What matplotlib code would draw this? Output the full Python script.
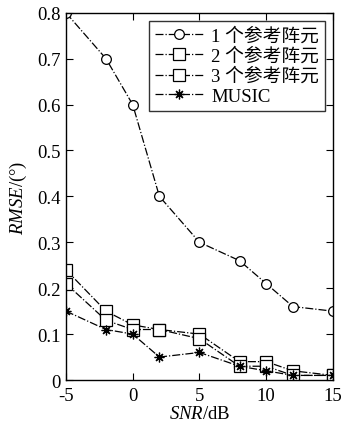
import numpy as np
import matplotlib.pyplot as plt

plt.rcParams['font.family'] = ['Liberation Serif', 'Noto Sans CJK SC']
plt.rcParams['mathtext.fontset'] = 'custom'
plt.rcParams['mathtext.rm'] = 'Liberation Serif'
plt.rcParams['mathtext.it'] = 'Liberation Serif:italic'
plt.rcParams['axes.unicode_minus'] = False

# data
snr = [-5, -2, 0, 2, 5, 8, 10, 12, 15]
rmse_1ref = [0.80, 0.70, 0.60, 0.40, 0.30, 0.26, 0.21, 0.16, 0.15]
rmse_2ref = [0.24, 0.15, 0.12, 0.11, 0.10, 0.04, 0.04, 0.02, 0.01]
rmse_3ref = [0.21, 0.13, 0.11, 0.11, 0.09, 0.03, 0.03, 0.01, 0.01]
rmse_music = [0.15, 0.11, 0.10, 0.05, 0.06, 0.03, 0.02, 0.01, 0.01]
labels = ["1 个参考阵元", "2 个参考阵元", "3 个参考阵元", "MUSIC"]

fig = plt.figure(figsize=(3.49, 4.31), dpi=100)
ax = fig.add_axes([0.189, 0.116, 0.765, 0.852])

style = dict(color="black", linestyle="-.", linewidth=0.9, markerfacecolor="white",
             markeredgecolor="black", markeredgewidth=0.9)
ax.plot(snr, rmse_1ref, marker="o", markersize=7, label=labels[0], **style)
ax.plot(snr, rmse_2ref, marker="s", markersize=8, label=labels[1], **style)
ax.plot(snr, rmse_3ref, marker="s", markersize=8, label=labels[2], **style)
ax.plot(snr, rmse_music, marker=(8, 2, 0), markersize=7, label=labels[3], **style)

ax.set_xlim(-5, 15)
ax.set_ylim(0, 0.8)
ax.set_xticks([-5, 0, 5, 10, 15])
ax.set_yticks(np.arange(0, 0.81, 0.1))
ax.set_yticklabels(["0", "0.1", "0.2", "0.3", "0.4", "0.5", "0.6", "0.7", "0.8"])
ax.tick_params(direction="in", top=True, right=True, labelsize=13.5, length=5)
ax.tick_params(axis="y", pad=4)
ax.tick_params(axis="x", pad=5)
for s in ax.spines.values():
    s.set_linewidth(1.0)

ax.set_xlabel(r"$\mathit{SNR}$/dB", fontsize=13.5, labelpad=1)
ax.set_ylabel(r"$\mathit{RMSE}$/(°)", fontsize=13.5, labelpad=6)

leg = ax.legend(loc="upper right", fontsize=13.5, frameon=True, fancybox=False,
                edgecolor="black", borderaxespad=0.45, handlelength=2.6,
                handletextpad=0.4, labelspacing=0.15, borderpad=0.3)
leg.get_frame().set_linewidth(1.0)

fig.savefig("out.png", dpi=100)
